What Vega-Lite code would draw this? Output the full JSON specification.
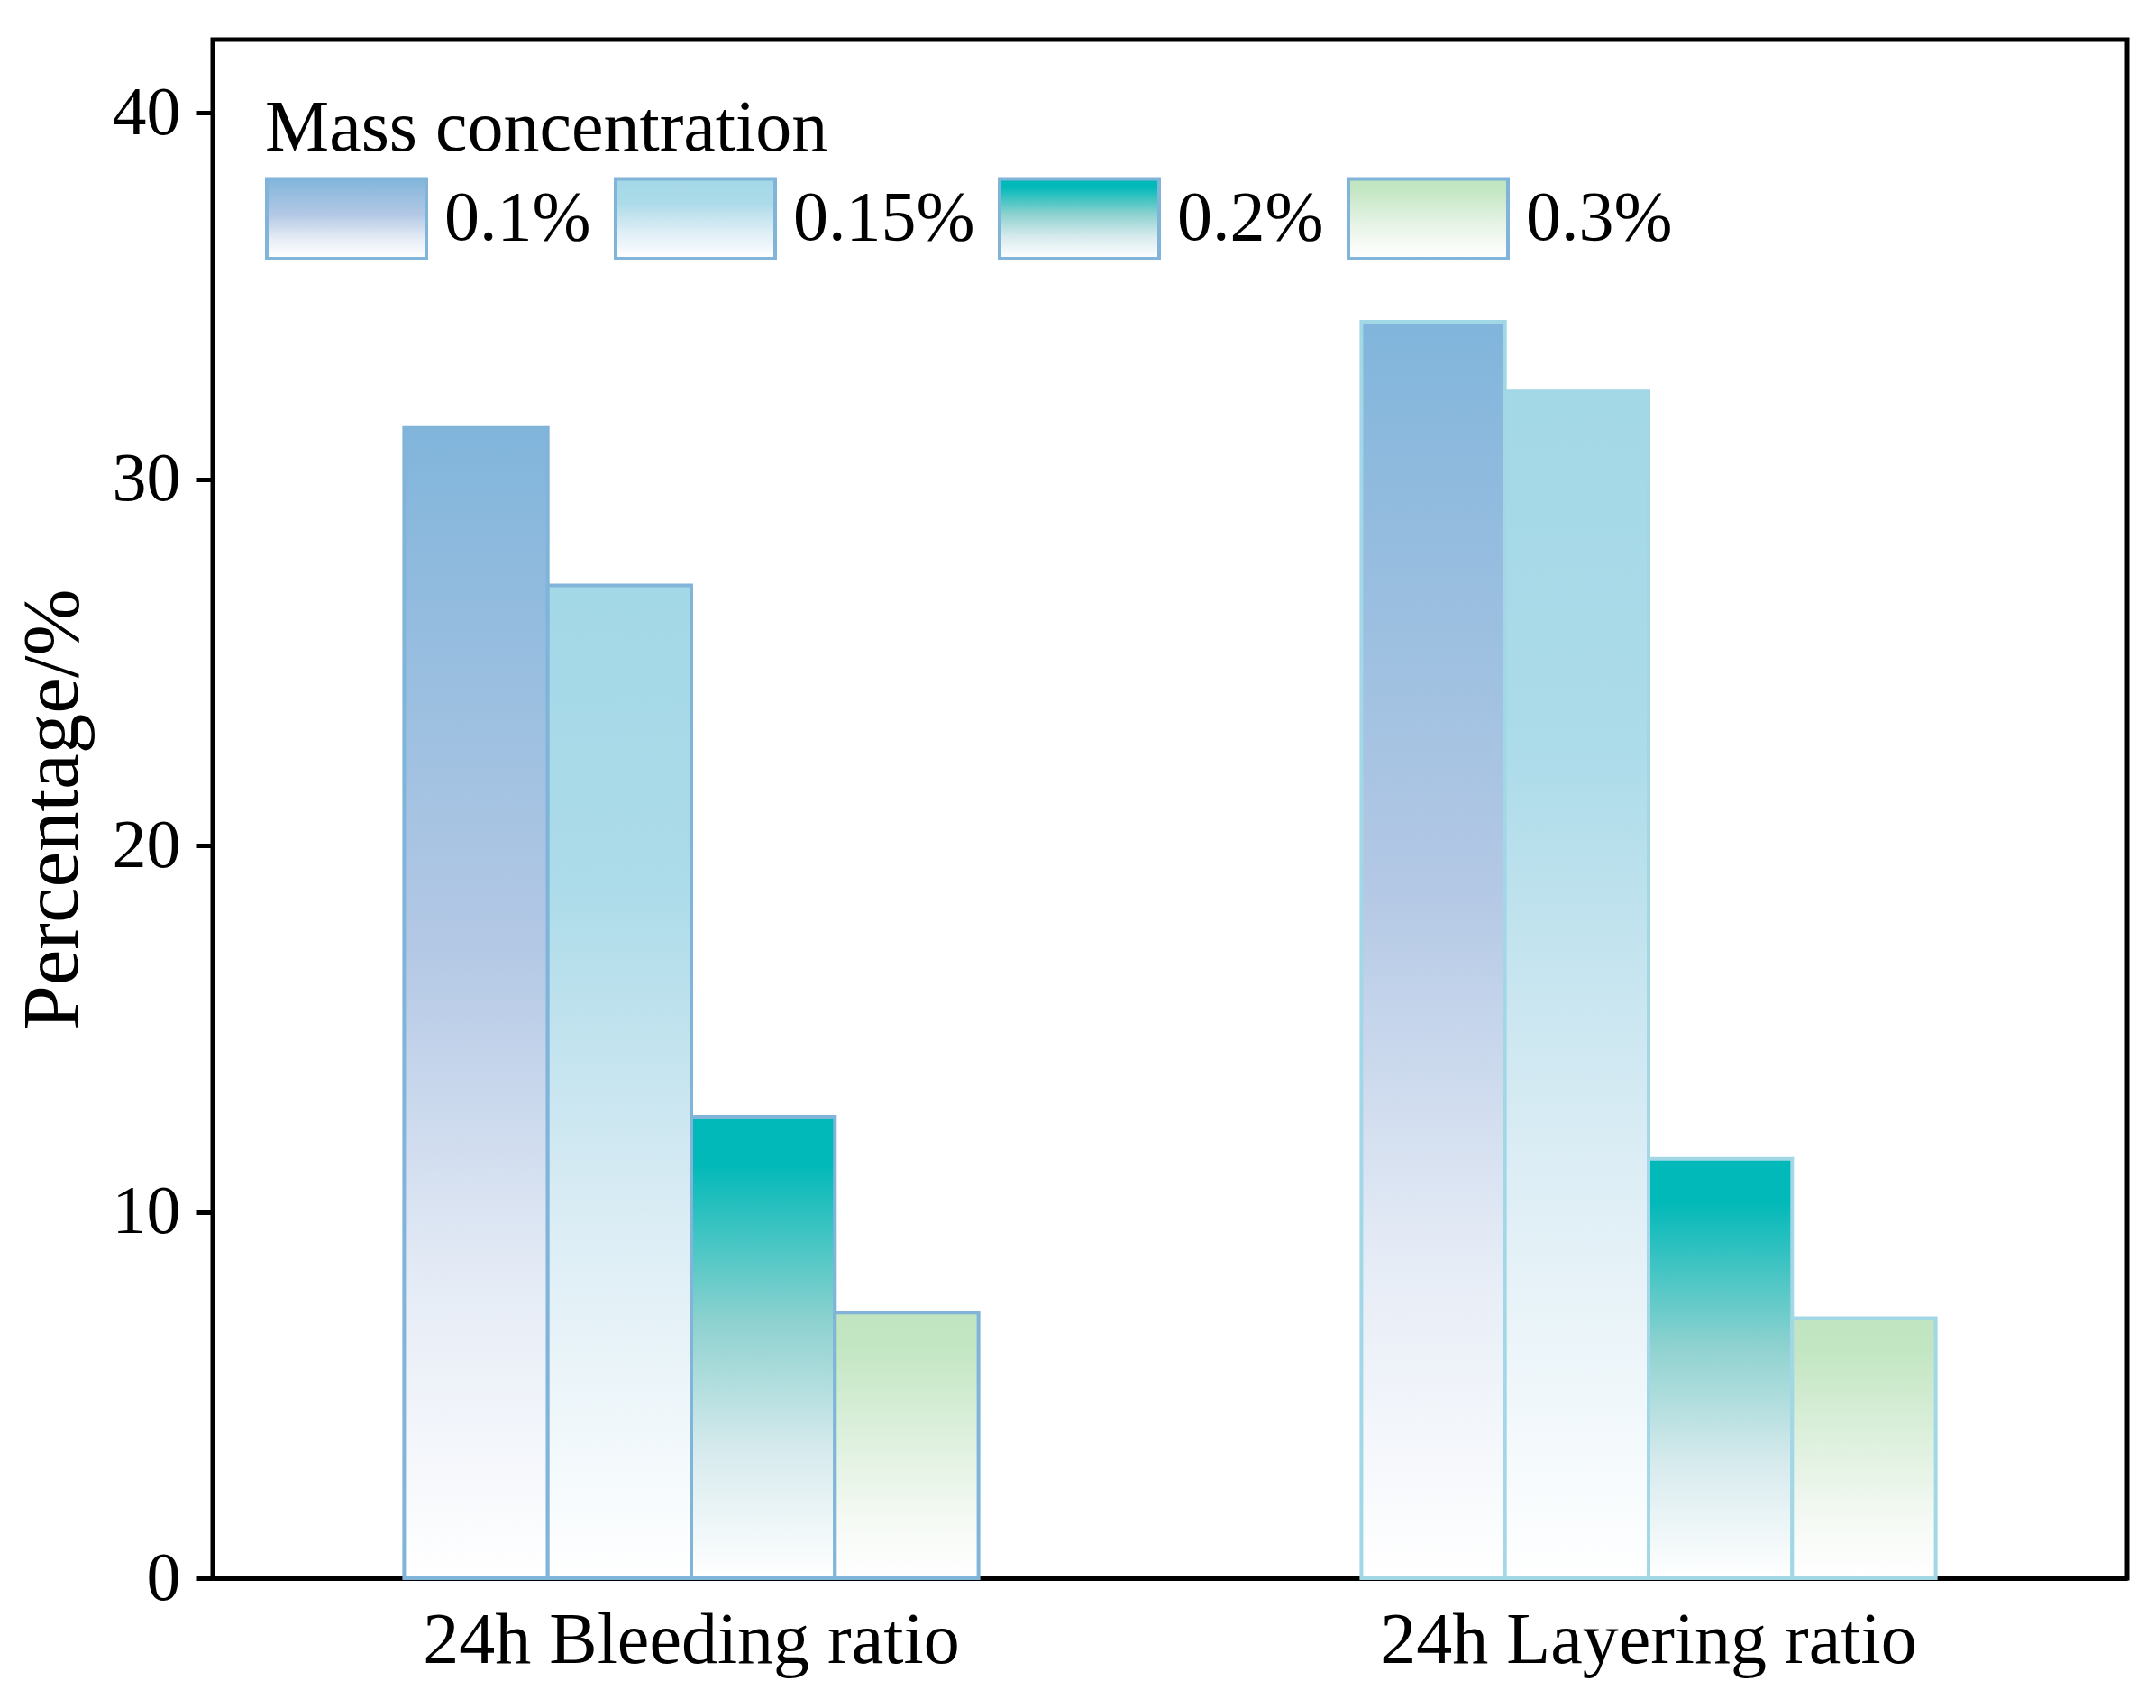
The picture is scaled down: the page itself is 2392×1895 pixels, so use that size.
{
  "$schema": "https://vega.github.io/schema/vega-lite/v6.json",
  "autosize": {"type": "none"},
  "padding": {"left": 236, "top": 44, "right": 32, "bottom": 144},
  "width": 2124,
  "height": 1707,
  "config": {
    "font": "Liberation Serif",
    "view": {"stroke": "#000000", "strokeWidth": 5},
    "axis": {"domainColor": "#000000", "domainWidth": 5, "grid": false}
  },
  "data": {
    "values": [
      {"item": "24h Bleeding ratio", "conc": "0.1%", "value": 31.4},
      {"item": "24h Bleeding ratio", "conc": "0.15%", "value": 27.1},
      {"item": "24h Bleeding ratio", "conc": "0.2%", "value": 12.6},
      {"item": "24h Bleeding ratio", "conc": "0.3%", "value": 7.25},
      {"item": "24h Layering ratio", "conc": "0.1%", "value": 34.3},
      {"item": "24h Layering ratio", "conc": "0.15%", "value": 32.4},
      {"item": "24h Layering ratio", "conc": "0.2%", "value": 11.45},
      {"item": "24h Layering ratio", "conc": "0.3%", "value": 7.1}
    ]
  },
  "mark": {"type": "bar", "strokeWidth": 4},
  "encoding": {
    "x": {
      "field": "item",
      "type": "nominal",
      "sort": null,
      "scale": {"paddingInner": 0.4, "paddingOuter": 0.2},
      "axis": {
        "title": null,
        "labelAngle": 0,
        "ticks": false,
        "labelFontSize": 80,
        "labelColor": "#000000",
        "labelLimit": 1200,
        "labelPadding": 30
      }
    },
    "xOffset": {
      "field": "conc",
      "type": "nominal",
      "sort": ["0.1%", "0.15%", "0.2%", "0.3%"],
      "scale": {"domain": ["0.1%", "0.15%", "0.2%", "0.3%"], "paddingInner": 0, "paddingOuter": 0}
    },
    "y": {
      "field": "value",
      "type": "quantitative",
      "scale": {"domain": [0, 42], "nice": false},
      "axis": {
        "title": "Percentage/%",
        "titleFontSize": 89,
        "titleFontWeight": "normal",
        "titleColor": "#000000",
        "titlePadding": 20,
        "values": [0, 10, 20, 30, 40],
        "labelFontSize": 76,
        "labelColor": "#000000",
        "labelPadding": 18,
        "tickSize": 18,
        "tickWidth": 5,
        "tickColor": "#000000"
      }
    },
    "fill": {
      "field": "conc",
      "type": "nominal",
      "scale": {
        "domain": ["0.1%", "0.15%", "0.2%", "0.3%"],
        "range": [
          {"expr": "{gradient: 'linear', x1: 0, y1: 0, x2: 0, y2: 1, stops: [{offset: 0, color: '#81b5db'}, {offset: 0.45, color: '#b3c8e5'}, {offset: 0.75, color: '#e6ecf6'}, {offset: 1, color: '#ffffff'}]}"},
          {"expr": "{gradient: 'linear', x1: 0, y1: 0, x2: 0, y2: 1, stops: [{offset: 0, color: '#a3d8e7'}, {offset: 0.3, color: '#acdbe9'}, {offset: 0.65, color: '#dcedf5'}, {offset: 1, color: '#ffffff'}]}"},
          {"expr": "{gradient: 'linear', x1: 0, y1: 0, x2: 0, y2: 1, stops: [{offset: 0, color: '#00b9b8'}, {offset: 0.1, color: '#00b9b8'}, {offset: 0.45, color: '#8fd2d0'}, {offset: 0.72, color: '#d6eaed'}, {offset: 1, color: '#ffffff'}]}"},
          {"expr": "{gradient: 'linear', x1: 0, y1: 0, x2: 0, y2: 1, stops: [{offset: 0, color: '#c1e5c1'}, {offset: 0.12, color: '#c2e6c2'}, {offset: 0.5, color: '#e0f1e0'}, {offset: 0.8, color: '#f6faf5'}, {offset: 1, color: '#ffffff'}]}"}
        ]
      },
      "legend": {
        "title": "Mass concentration",
        "orient": "none",
        "legendX": 58,
        "legendY": 60,
        "direction": "horizontal",
        "columns": 4,
        "columnPadding": 19,
        "titleFontSize": 80,
        "titleFontWeight": "normal",
        "titleColor": "#000000",
        "titleLimit": 1500,
        "titlePadding": -32,
        "labelFontSize": 78,
        "labelColor": "#000000",
        "labelOffset": 18,
        "labelLimit": 400,
        "symbolType": "M-1,-0.5H1V0.5H-1Z",
        "symbolSize": 31329,
        "symbolStrokeColor": "#80b4d9",
        "symbolStrokeWidth": 4,
        "symbolOpacity": 1
      }
    },
    "stroke": {
      "field": "item",
      "type": "nominal",
      "scale": {"domain": ["24h Bleeding ratio", "24h Layering ratio"], "range": ["#80b4d9", "#a2d7e6"]},
      "legend": null
    }
  }
}
